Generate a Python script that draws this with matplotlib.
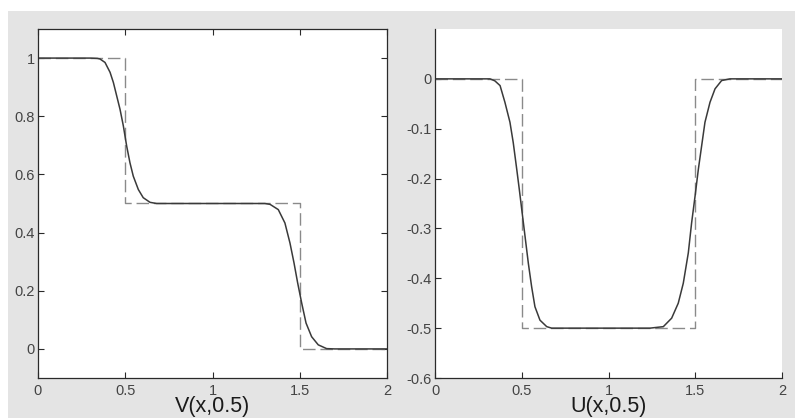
import numpy as np
import matplotlib.pyplot as plt
from matplotlib.patches import Rectangle

plt.rcParams['font.family'] = ['Liberation Sans', 'DejaVu Sans']
plt.rcParams['axes.unicode_minus'] = False

# V(x,0.5): smooth numerical profile and exact step solution
v_x = [0.0, 0.30, 0.34, 0.355, 0.384, 0.413, 0.432, 0.451, 0.470, 0.489, 0.508,
       0.527, 0.546, 0.575, 0.603, 0.642, 0.68, 1.30, 1.33, 1.377, 1.415, 1.444,
       1.467, 1.488, 1.511, 1.536, 1.568, 1.606, 1.654, 1.70, 2.0]
v_y = [1.0, 1.0, 0.999, 0.997, 0.985, 0.951, 0.916, 0.870, 0.824, 0.767, 0.698,
       0.640, 0.594, 0.548, 0.520, 0.504, 0.5, 0.5, 0.497, 0.479, 0.433, 0.364,
       0.296, 0.227, 0.158, 0.089, 0.042, 0.014, 0.001, 0.0, 0.0]
v_step_x = [0, 0.5, 0.5, 1.5, 1.5, 2]
v_step_y = [1, 1, 0.5, 0.5, 0, 0]

# U(x,0.5)
u_x = [0.0, 0.30, 0.317, 0.345, 0.375, 0.403, 0.432, 0.451, 0.471, 0.486, 0.500,
       0.519, 0.538, 0.557, 0.576, 0.605, 0.644, 0.672, 1.239, 1.316, 1.364,
       1.402, 1.431, 1.460, 1.479, 1.499, 1.518, 1.537, 1.556, 1.585, 1.614,
       1.652, 1.70, 2.0]
u_y = [0.0, 0.0, 0.0, -0.004, -0.0135, -0.047, -0.087, -0.128, -0.181, -0.222,
       -0.262, -0.316, -0.370, -0.417, -0.457, -0.484, -0.497, -0.5, -0.5,
       -0.497, -0.48, -0.45, -0.41, -0.349, -0.289, -0.235, -0.181, -0.134,
       -0.087, -0.047, -0.020, -0.0034, 0.0, 0.0]
u_step_x = [0, 0.5, 0.5, 1.5, 1.5, 2]
u_step_y = [0, 0, -0.5, -0.5, 0, 0]

x_ticks = [0, 0.5, 1, 1.5, 2]
x_labels = ['0', '0.5', '1', '1.5', '2']
v_ticks = [0, 0.2, 0.4, 0.6, 0.8, 1]
v_labels = ['0', '0.2', '0.4', '0.6', '0.8', '1']
u_ticks = [-0.6, -0.5, -0.4, -0.3, -0.2, -0.1, 0]
u_labels = ['-0.6', '-0.5', '-0.4', '-0.3', '-0.2', '-0.1', '0']

W, H = 795, 418
fig = plt.figure(figsize=(W / 100, H / 100), dpi=100, facecolor='white')
fig.patches.append(Rectangle((8 / W, 0), 1 - 8 / W, 1 - 11 / H,
                             transform=fig.transFigure, facecolor='#e4e4e4',
                             edgecolor='none', zorder=-10))

def px_axes(x0, y0, x1, y1):
    return fig.add_axes([x0 / W, 1 - y1 / H, (x1 - x0) / W, (y1 - y0) / H])

ax1 = px_axes(38, 29, 387, 378)
ax2 = px_axes(435, 29, 782, 378)

solid = dict(color='#3a3a3a', lw=1.1)
dashed = dict(color='#8a8a8a', lw=1.0, dashes=(9, 3.5))

ax1.plot(v_step_x, v_step_y, **dashed)
ax1.plot(v_x, v_y, **solid)
ax1.set_xlim(0, 2)
ax1.set_ylim(-0.1, 1.1)
ax1.set_yticks(v_ticks, v_labels)
ax1.tick_params(top=True, right=True)

ax2.plot(u_step_x, u_step_y, **dashed)
ax2.plot(u_x, u_y, **solid)
ax2.set_xlim(0, 2)
ax2.set_ylim(-0.6, 0.1)
ax2.set_yticks(u_ticks, u_labels)
ax2.spines['top'].set_visible(False)
ax2.spines['right'].set_visible(False)

for ax, name in [(ax1, 'V(x,0.5)'), (ax2, 'U(x,0.5)')]:
    ax.set_facecolor('white')
    ax.set_xticks(x_ticks, x_labels)
    ax.tick_params(direction='in', length=4, width=0.8, colors='#2a2a2a',
                   labelcolor='#444444', labelsize=10.5)
    ax.tick_params(axis='y', pad=2.5)
    ax.tick_params(axis='x', pad=4)
    for s in ax.spines.values():
        s.set_color('#2a2a2a')
        s.set_linewidth(0.9)
    ax.set_xlabel(name, fontsize=15.5, color='#1a1a1a', labelpad=-1)

fig.savefig('out.png', dpi=100, facecolor=fig.get_facecolor())
